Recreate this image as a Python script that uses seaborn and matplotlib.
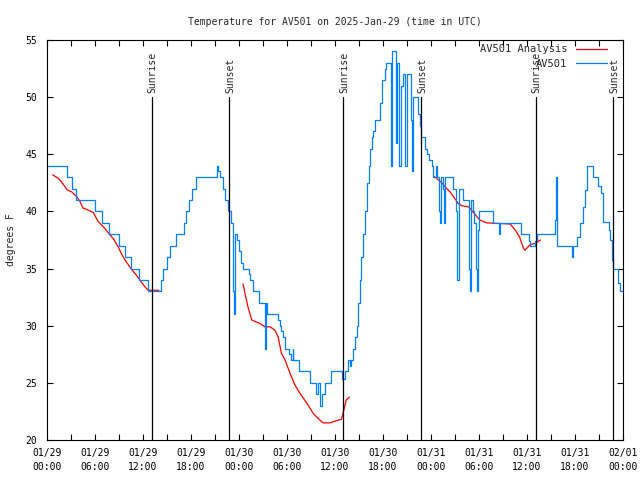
import matplotlib
matplotlib.use("Agg")
import matplotlib.pyplot as plt
import numpy as np
import pandas as pd
import seaborn as sns

# hours since 2025-01-29 00:00 UTC
av501_hours = [0.0, 2.5, 3.1, 3.6, 6.0, 6.9, 7.75, 9.0, 9.8, 10.5, 11.5, 12.6, 14.2, 14.5, 15.0,
               15.4, 16.1, 17.1, 17.4, 17.7, 18.1, 18.6, 21.2, 21.4, 21.6, 22.0, 22.3, 22.6, 23.0,
               23.2, 23.35, 23.55, 23.8, 24.0, 24.3, 24.5, 25.2, 25.4, 25.7, 26.5, 27.25, 27.35,
               27.5, 28.9, 29.1, 29.3, 29.5, 29.7, 30.2, 30.45, 30.7, 30.8, 31.45, 32.9, 33.6,
               33.85, 34.1, 34.4, 34.8, 35.5, 36.9, 37.2, 37.6, 37.85, 38.0, 38.3, 38.5, 38.7,
               38.9, 39.1, 39.3, 39.5, 39.7, 40.0, 40.2, 40.4, 40.6, 40.8, 41.0, 41.6, 41.9, 42.2,
               42.4, 42.95, 43.1, 43.6, 43.7, 44.0, 44.3, 44.5, 44.8, 44.95, 45.5, 45.6, 45.8,
               46.4, 46.6, 46.8, 47.2, 47.5, 47.8, 48.1, 48.3, 48.6, 48.8, 48.95, 49.1, 49.25,
               49.45, 49.6, 49.75, 50.7, 51.1, 51.2, 51.3, 51.55, 52.05, 52.7, 52.8, 52.85, 53.05,
               53.2, 53.35, 53.65, 53.75, 53.85, 54.0, 55.7, 56.5, 56.6, 59.2, 60.2, 60.4, 61.0,
               61.2, 63.5, 63.6, 63.7, 63.8, 64.0, 65.6, 65.8, 66.2, 66.6, 67.0, 67.25, 67.5, 68.2,
               68.9, 69.3, 69.5, 70.2, 70.4, 70.6, 70.8, 71.4, 71.6, 72.0]
av501_temps = [44, 43, 42, 41, 40, 39, 38, 37, 36, 35, 34, 33, 34, 35, 36,
               37, 38, 39, 40, 41, 42, 43, 44, 43.5, 43, 42, 41, 40, 39,
               33, 31, 38, 37.5, 36.5, 35.5, 35, 34.5, 34, 33, 32, 28, 32,
               31, 30.5, 30, 29.5, 29, 28, 27.5, 27, 28, 27, 26, 25, 24,
               25, 23, 24, 25, 26, 25.3, 26, 27, 26.5, 27, 28, 29, 30,
               32, 34, 36, 38, 40, 42.5, 44, 45.5, 46.5, 47, 48, 49.5, 51.5, 52.5,
               53, 44, 54, 46, 53, 44, 51, 52, 44, 52, 48, 43.5, 50,
               48.5, 47.5, 46.5, 45.5, 45, 44.5, 44, 43, 44, 43, 40, 39, 43,
               42, 39, 43, 42, 40, 36, 34, 42, 41, 39, 35, 33, 41,
               40, 39, 35, 33, 38.4, 40, 39, 38, 39, 38, 37.4, 37, 37.4,
               38, 39.25, 43, 42, 37, 37, 36, 37, 37.8, 39, 40.4, 41.9, 44, 43,
               42.2, 41.6, 39.1, 38.4, 37.5, 35.75, 35, 33.7, 33, 33]

analysis_seg1_hours = [0.7, 1.4, 1.8, 2.5, 3.1, 3.7, 4.1, 4.5, 5.2, 5.8, 6.4, 7.0, 7.7, 8.3, 8.9,
                       9.3, 9.75, 10.6, 11.2, 11.6, 12.25, 12.65, 14.0]
analysis_seg1_temps = [43.2, 42.9, 42.6, 41.9, 41.7, 41.3, 40.9, 40.3, 40.1, 39.9, 39.1, 38.7, 38.1,
                       37.6, 36.9, 36.3, 35.75, 34.9, 34.4, 34.0, 33.4, 33.1, 33.1]
analysis_seg2_hours = [24.5, 25.1, 25.6, 26.6, 27.25, 27.9, 28.5, 28.9, 29.3, 29.75, 30.4, 31.0,
                       31.6, 32.5, 33.3, 34.1, 34.5, 35.4, 36.2, 36.8, 37.1, 37.4, 37.8]
analysis_seg2_temps = [33.65, 31.7, 30.5, 30.2, 29.9, 29.9, 29.6, 29.0, 27.6, 27.0, 25.8, 24.8,
                       24.1, 23.2, 22.3, 21.75, 21.5, 21.5, 21.7, 21.8, 22.6, 23.5, 23.75]
analysis_seg3_hours = [48.3, 48.7, 49.35, 49.95, 50.4, 50.8, 51.4, 51.85, 52.7, 53.3, 54.1, 54.95,
                       57.9, 58.5, 59.05, 59.55, 59.75, 60.4, 61.0, 61.7]
analysis_seg3_temps = [43.1, 42.9, 42.5, 42.0, 41.7, 41.3, 40.7, 40.5, 40.4, 39.9, 39.25, 39.0,
                       38.9, 38.4, 37.8, 36.8, 36.6, 37.1, 37.2, 37.5]

sun_hours = [13.1, 22.8, 37.05, 46.8, 61.1, 70.8]
sun_labels = ["Sunrise", "Sunset", "Sunrise", "Sunset", "Sunrise", "Sunset"]

tick_hours = list(range(0, 73, 6))
tick_labels = ["01/29\n00:00", "01/29\n06:00", "01/29\n12:00", "01/29\n18:00",
               "01/30\n00:00", "01/30\n06:00", "01/30\n12:00", "01/30\n18:00",
               "01/31\n00:00", "01/31\n06:00", "01/31\n12:00", "01/31\n18:00",
               "02/01\n00:00"]

sns.set_style("ticks")
plt.rcParams["font.family"] = ["DejaVu Sans Mono"]
plt.rcParams["font.size"] = 7

fig = plt.figure(figsize=(6.4, 4.8), dpi=100)
ax = fig.add_axes([47 / 640, 40 / 480, 576 / 640, 400 / 480])

df_obs = pd.DataFrame({"hour": av501_hours, "temp": av501_temps})
segs = [(analysis_seg1_hours, analysis_seg1_temps),
        (analysis_seg2_hours, analysis_seg2_temps),
        (analysis_seg3_hours, analysis_seg3_temps)]

for i, (h, t) in enumerate(segs):
    sns.lineplot(x=h, y=t, ax=ax, color="#ff0000", lw=0.9, estimator=None, sort=False,
                 label="AV501 Analysis" if i == 0 else None)
sns.lineplot(data=df_obs, x="hour", y="temp", ax=ax, color="#0080ff", lw=0.9,
             estimator=None, sort=False, drawstyle="steps-post", label="AV501")

# sunrise / sunset markers
for h, lab in zip(sun_hours, sun_labels):
    ax.plot([h, h], [20, 50], color="black", lw=0.9)
    ax.text(h + 0.1, 50.4, lab, rotation=90, ha="center", va="bottom", fontsize=7)

ax.set_xlim(0, 72)
ax.set_ylim(20, 55)
ax.set_xticks(tick_hours)
ax.set_xticklabels(tick_labels)
for lab in ax.get_xticklabels():
    lab.set_linespacing(1.5)
ax.set_xticks(range(0, 73, 3), minor=True)
ax.set_yticks(range(20, 56, 5))
ax.tick_params(which="both", direction="in", top=True, right=True, length=4, width=0.8,
               colors="black", labelsize=7)
ax.tick_params(axis="x", pad=6)
ax.tick_params(axis="y", pad=7)
for s in ax.spines.values():
    s.set_linewidth(0.8)
    s.set_color("black")

ax.set_xlabel("")
ax.set_ylabel("degrees F", fontsize=7, labelpad=7)
ax.set_title("Temperature for AV501 on 2025-Jan-29 (time in UTC)", fontsize=7, pad=11)

ax.legend(loc="upper right", bbox_to_anchor=(1 - 12 / 576, 1.0), borderaxespad=0,
          borderpad=0.4, frameon=False, markerfirst=False, handlelength=3.0,
          handletextpad=0.8, labelspacing=0.45, fontsize=7.5)

fig.savefig("out.png", dpi=100)
